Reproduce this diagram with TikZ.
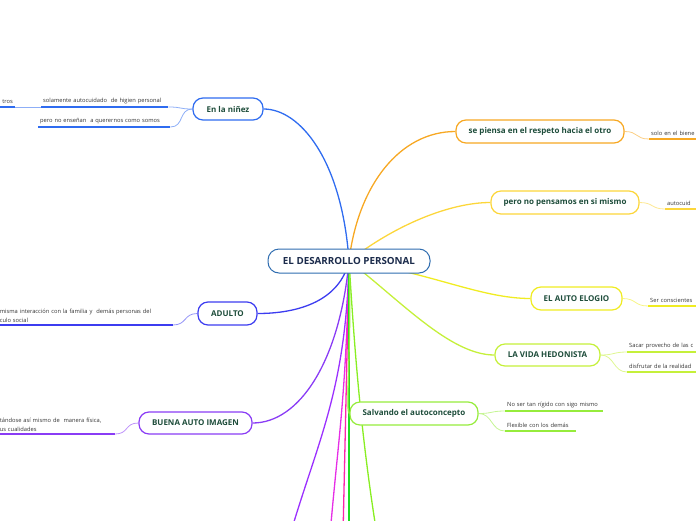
\documentclass[tikz,border=0pt]{standalone}
\usepackage{fontspec}
\setmainfont{Open Sans}
\pgfdeclarelayer{bg}
\pgfsetlayers{bg,main}
\definecolor{cCentral}{HTML}{2F6DB0}
\definecolor{cCenText}{HTML}{1B2B4B}
\definecolor{cBoxText}{HTML}{1E4D3B}
\definecolor{cChildText}{HTML}{333333}
\definecolor{cNinez}{HTML}{2F6CF0}
\definecolor{cAdulto}{HTML}{3C3CF0}
\definecolor{cImagen}{HTML}{8A3CF5}
\definecolor{cResp}{HTML}{F7A823}
\definecolor{cPens}{HTML}{FCD63A}
\definecolor{cElog}{HTML}{F0EC22}
\definecolor{cHedo}{HTML}{C5F03A}
\definecolor{cSalv}{HTML}{96EC3C}
\definecolor{cMag}{HTML}{E62EE6}
\definecolor{cPink}{HTML}{FF22AA}
\definecolor{cGreen}{HTML}{22DD22}
\definecolor{cLime}{HTML}{88EE22}
\definecolor{cPurp}{HTML}{9B30FF}
\tikzset{
  topic/.style={draw=#1, line width=1.2pt, rounded corners=10pt, fill=white,
    text=cBoxText, font=\fontsize{8}{9}\selectfont\bfseries, inner sep=0pt},
  centre/.style={draw=cCentral, line width=1pt, rounded corners=11pt, fill=white,
    text=cCenText, font=\fontsize{9.8}{11}\selectfont\bfseries, inner sep=0pt,
    minimum width=162pt, minimum height=24pt},
  leaf/.style={inner xsep=2pt, inner ysep=3pt, text=cChildText,
    font=\fontsize{5.75}{8.5}\selectfont, align=left},
  ul/.style={draw=#1, line width=2pt},
  mainline/.style={draw=#1, line width=1.3pt},
  subline/.style={draw=#1!55, line width=0.8pt},
}
\begin{document}
\begin{tikzpicture}[x=1pt,y=-1pt]
\useasboundingbox (0,0) rectangle (696,520);
\clip (0,0) rectangle (696,520);

% central and topics
\node[centre] (central) at (349,261) {EL DESARROLLO PERSONAL};
\node[topic=cNinez, minimum width=70pt, minimum height=22pt] (ninez) at (228,109) {En la niñez};
\node[topic=cResp, minimum width=168pt, minimum height=23pt] (resp) at (540,131.5) {se piensa en el respeto hacia el otro};
\node[topic=cPens, minimum width=148pt, minimum height=23pt] (pens) at (565,202.5) {pero no pensamos en si mismo};
\node[topic=cElog, minimum width=91pt, minimum height=23pt] (elog) at (576.5,298.5) {EL AUTO ELOGIO};
\node[topic=cHedo, minimum width=105pt, minimum height=22pt] (hedo) at (547.5,355) {LA VIDA HEDONISTA};
\node[topic=cSalv, minimum width=128pt, minimum height=23pt] (salv) at (414,413.5) {Salvando el autoconcepto};
\node[topic=cAdulto, minimum width=59pt, minimum height=23pt] (adulto) at (227.5,313.5) {ADULTO};
\node[topic=cImagen, minimum width=113pt, minimum height=22pt] (imagen) at (195.5,423) {BUENA AUTO IMAGEN};

% off-picture ends of the lower branches
\coordinate (offPurp) at (290,535);
\coordinate (offMag) at (330,535);
\coordinate (offPink) at (343,535);
\coordinate (offGreen) at (349,535);
\coordinate (offLime) at (377,535);

% leaves
\node[leaf, anchor=south east, align=right, text width=30pt] (tros) at (15,107) {tros};
\node[leaf, anchor=south west, text width=123pt] (sol) at (41,107) {solamente autocuidado\ \ de higien personal};
\node[leaf, anchor=south west, text width=128pt] (ens) at (38,127) {pero no enseñan\ \ a querernos como somos};
\node[leaf, anchor=south west, text width=80pt] (solo) at (649,139) {solo en el biene};
\node[leaf, anchor=south west, text width=60pt] (autoc) at (665,209) {autocuid};
\node[leaf, anchor=south west, text width=80pt] (ser) at (648,306) {Ser conscientes};
\node[leaf, anchor=south west, text width=100pt] (sacar) at (627,352) {Sacar provecho de las c};
\node[leaf, anchor=south west, text width=100pt] (disf) at (627,372) {disfrutar de la realidad};
\node[leaf, anchor=south west, text width=94pt] (noser) at (505,411) {No ser tan rígido con sigo mismo};
\node[leaf, anchor=south west, text width=67pt] (flex) at (505,431) {Flexible con los demás};
\node[leaf, anchor=south east, text width=171pt, inner ysep=2.5pt] (adch) at (173,325) {misma interacción con la familia y\ \ demás personas del\\culo social};
\node[leaf, anchor=south east, text width=113pt, inner ysep=2.5pt] (imch) at (115,434) {tándose así mismo de\ \ manera física,\\us cualidades};

% underlines
\foreach \n/\c in {tros/cNinez, sol/cNinez, ens/cNinez, solo/cResp, autoc/cPens, ser/cElog,
  sacar/cHedo, disf/cHedo, noser/cSalv, flex/cSalv, adch/cAdulto, imch/cImagen}
  \draw[ul=\c] (\n.south west) -- (\n.south east);

\begin{pgfonlayer}{bg}
% main branches
\draw[mainline=cPurp] (central.center) .. controls (346,390) and (318,440) .. (offPurp);
\draw[mainline=cMag] (central.center) .. controls (346,400) and (338,440) .. (offMag);
\draw[mainline=cPink] (central.center) .. controls (346,400) .. (offPink);
\draw[mainline=cGreen] (central.center) -- (offGreen);
\draw[mainline=cLime] (central.center) .. controls (354,340) and (360,430) .. (offLime);
\draw[mainline=cNinez] (central.center) .. controls (342,160) and (300,109) .. (ninez.east);
\draw[mainline=cResp] (central.center) .. controls (358,185) and (400,131.5) .. (resp.west);
\draw[mainline=cPens] (central.center) .. controls (395,225) and (450,202.5) .. (pens.west);
\draw[mainline=cElog] (central.center) .. controls (430,272) and (480,298.5) .. (elog.west);
\draw[mainline=cHedo] (central.center) .. controls (400,300) and (450,355) .. (hedo.west);
\draw[mainline=cSalv] (central.center) .. controls (352,340) and (345,413.5) .. (salv.west);
\draw[mainline=cAdulto] (central.center) .. controls (340,300) and (300,313.5) .. (adulto.east);
\draw[mainline=cImagen] (central.center) .. controls (340,360) and (300,423) .. (imagen.east);
% sub branches
\draw[subline=cNinez] (ninez.west) .. controls +(-14,0) and +(14,0) .. (sol.south east);
\draw[subline=cNinez] (ninez.west) .. controls +(-14,0) and +(14,0) .. (ens.south east);
\draw[subline=cNinez] (sol.south west) -- (tros.south east);
\draw[subline=cResp] (resp.east) .. controls +(14,0) and +(-14,0) .. (solo.south west);
\draw[subline=cPens] (pens.east) .. controls +(14,0) and +(-14,0) .. (autoc.south west);
\draw[subline=cElog] (elog.east) .. controls +(14,0) and +(-14,0) .. (ser.south west);
\draw[subline=cHedo] (hedo.east) .. controls +(14,0) and +(-14,0) .. (sacar.south west);
\draw[subline=cHedo] (hedo.east) .. controls +(14,0) and +(-14,0) .. (disf.south west);
\draw[subline=cSalv] (salv.east) .. controls +(14,0) and +(-14,0) .. (noser.south west);
\draw[subline=cSalv] (salv.east) .. controls +(14,0) and +(-14,0) .. (flex.south west);
\draw[subline=cAdulto] (adulto.west) .. controls +(-14,0) and +(14,0) .. (adch.south east);
\draw[subline=cImagen] (imagen.west) .. controls +(-14,0) and +(14,0) .. (imch.south east);
\end{pgfonlayer}
\end{tikzpicture}
\end{document}
